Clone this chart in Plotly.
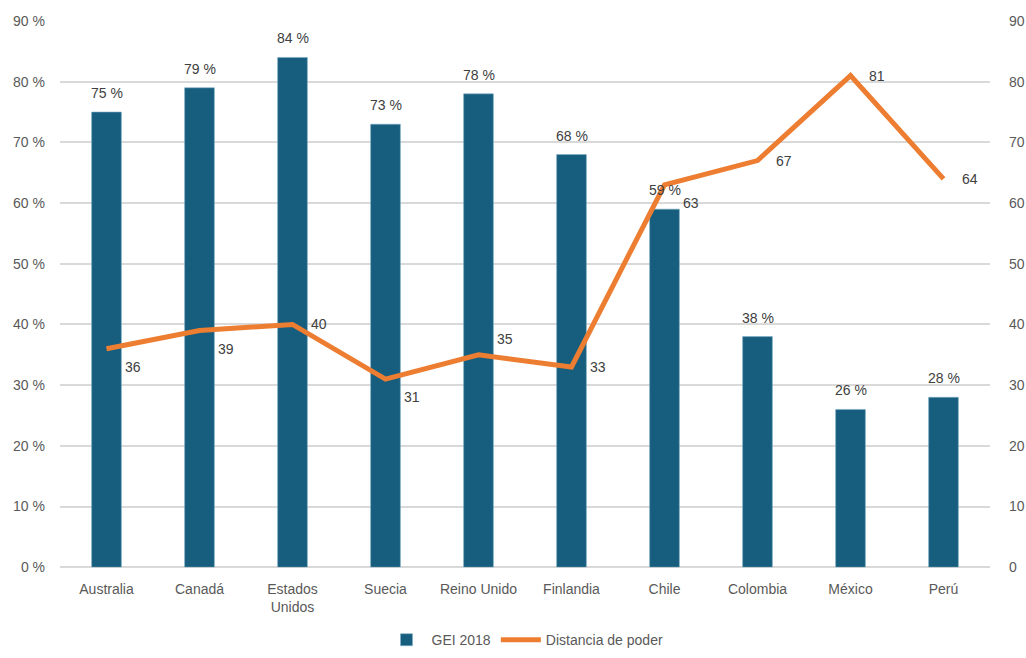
import plotly.graph_objects as go

# Countries, GEI 2018 scores (%) and power-distance index
paises = ["Australia", "Canadá", "Estados<br>Unidos", "Suecia", "Reino Unido",
          "Finlandia", "Chile", "Colombia", "México", "Perú"]
gei_2018 = [75, 79, 84, 73, 78, 68, 59, 38, 26, 28]
distancia_poder = [36, 39, 40, 31, 35, 33, 63, 67, 81, 64]

# vertical nudge (px) for each line value label: below, level or above
label_dy = [-18, -18, 0, -18, 16, 0, -18, 0, 0, 0]

TXT = "#595959"
LBL = "#404040"
FONT = "Liberation Sans, Arial, sans-serif"

fig = go.Figure()
fig.add_trace(go.Bar(
    x=paises, y=gei_2018, name="GEI 2018",
    marker=dict(color="#175E7E", line=dict(color="#7FAFC8", width=0.6)),
    width=0.32,
))
fig.add_trace(go.Scatter(
    x=paises, y=distancia_poder, name="Distancia de poder", yaxis="y2",
    mode="lines", line=dict(color="#ED7D31", width=5),
))

# value labels above the bars
for p, v in zip(paises, gei_2018):
    fig.add_annotation(
        x=p, y=v, xref="x", yref="y", text=f"{v} %", showarrow=False,
        yanchor="bottom", yshift=9, font=dict(size=14, color=LBL, family=FONT),
    )

# value labels to the right of the line points
for p, v, dy in zip(paises, distancia_poder, label_dy):
    fig.add_annotation(
        x=p, y=v, xref="x", yref="y2", text=str(v), showarrow=False,
        xshift=26, yshift=dy, font=dict(size=14, color=LBL, family=FONT),
    )

fig.update_layout(
    width=1026, height=658,
    margin=dict(l=60, r=36, t=21, b=0),
    paper_bgcolor="white", plot_bgcolor="white",
    font=dict(family=FONT, size=14, color=TXT),
    bargap=0.68,
    showlegend=True,
    legend=dict(orientation="h", x=0.5, xanchor="center", y=0.0157, yanchor="middle",
                font=dict(size=14, color=TXT), itemwidth=40),
    xaxis=dict(showgrid=False, showline=False, ticks="", ticklabelstandoff=12,
               tickfont=dict(size=14, color=TXT)),
    yaxis=dict(range=[0, 90], dtick=10, ticksuffix=" %", showgrid=True,
               domain=[0.1316, 1],
               gridcolor="#D9D9D9", gridwidth=1.5, zeroline=True, zerolinecolor="#D9D9D9",
               zerolinewidth=1.5, showline=False, ticks="", ticklabelstandoff=14,
               tickfont=dict(size=14, color=TXT)),
    yaxis2=dict(range=[0, 90], dtick=10, overlaying="y", side="right", showgrid=False,
                zeroline=False, showline=False, ticks="", ticklabelstandoff=18,
                tickfont=dict(size=14, color=TXT)),
)

fig.write_html("out.html")
